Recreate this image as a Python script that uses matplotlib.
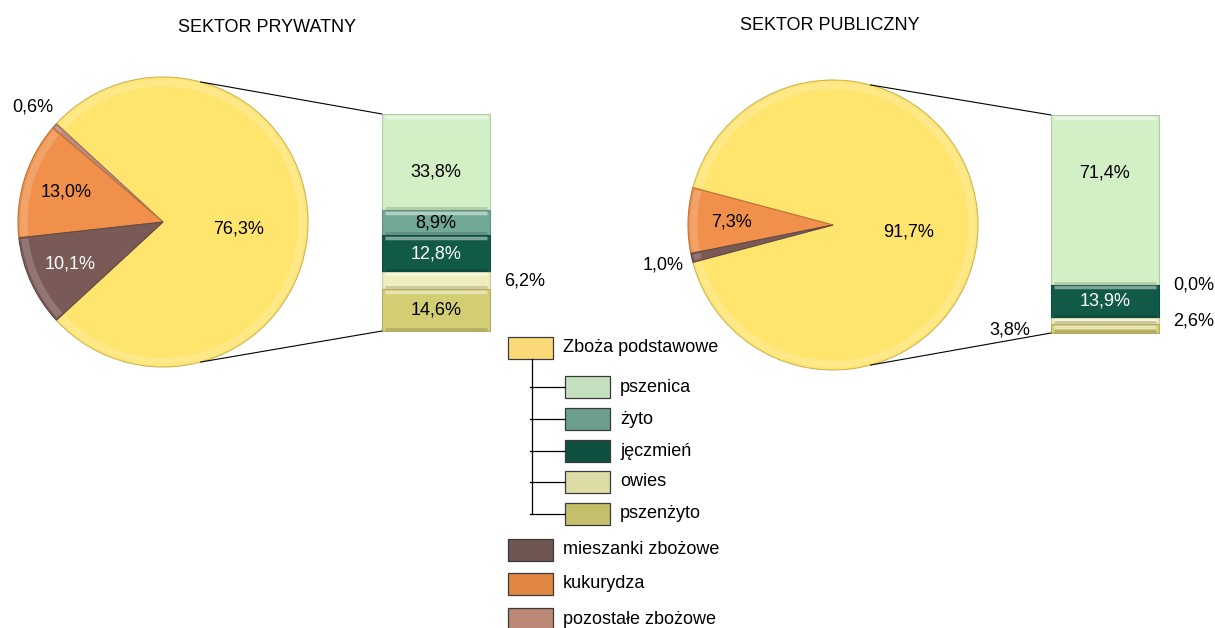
import numpy as np
import matplotlib
matplotlib.use("Agg")
import matplotlib.pyplot as plt
from matplotlib.colors import to_rgb
from matplotlib.patches import ConnectionPatch, Rectangle, Wedge

plt.rcParams["font.family"] = ["Liberation Sans", "DejaVu Sans"]
plt.rcParams["font.size"] = 13

# --- data -------------------------------------------------------------
titles = ["SEKTOR PRYWATNY", "SEKTOR PUBLICZNY"]

pie_labels = ["Zboża podstawowe", "pozostałe zbożowe", "kukurydza", "mieszanki zbożowe"]
private_pie = [76.3, 0.6, 13.0, 10.1]
public_pie = [91.7, 0.0, 7.3, 1.0]

bar_labels = ["pszenica", "żyto", "jęczmień", "owies", "pszenżyto"]
private_bar = [33.8, 8.9, 12.8, 6.2, 14.6]
public_bar = [71.4, 0.0, 13.9, 2.6, 3.8]

# --- style ------------------------------------------------------------
pie_colors = ["#FFE46E", "#C08A7A", "#F0904A", "#7A5A57"]
pie_text = ["black", "black", "black", "white"]
bar_colors = ["#D3EFC6", "#72A896", "#115A48", "#EFEDBC", "#D3CD74"]
bar_text = ["black", "black", "white", "black", "black"]

legend_pie_colors = ["#FAD978", "#BC8876", "#DF8742", "#6F5651"]
legend_bar_colors = ["#C5E0BF", "#6B9E8D", "#0E4F40", "#DEDCA6", "#C4BF6A"]

W, H = 1215, 628


def box(x0, y0, x1, y1):
    """pixel box (top-left origin) -> figure fraction rect"""
    return [x0 / W, 1 - y1 / H, (x1 - x0) / W, (y1 - y0) / H]


def shade(c, f):
    r, g, b = to_rgb(c)
    if f < 1:
        return (r * f, g * f, b * f)
    t = f - 1
    return (r + (1 - r) * t, g + (1 - g) * t, b + (1 - b) * t)


def pct(v):
    return f"{v:.1f}%".replace(".", ",")


fig = plt.figure(figsize=(W / 100, H / 100), dpi=100)

layouts = [
    dict(center=(163, 222), r=145, bar=(382, 114, 490, 331), title=(267, 27)),
    dict(center=(833, 225), r=145, bar=(1051, 115, 1159, 333), title=(830, 25)),
]

for pie_vals, bar_vals, lay, title in zip([private_pie, public_pie],
                                          [private_bar, public_bar], layouts, titles):
    cx, cy = lay["center"]
    r = lay["r"]
    ax_pie = fig.add_axes(box(cx - r, cy - r, cx + r, cy + r))

    keep = [i for i, v in enumerate(pie_vals) if v > 0]
    vals = [pie_vals[i] for i in keep]
    start = -pie_vals[0] / 100 * 180
    wedges, _ = ax_pie.pie(
        vals,
        colors=[pie_colors[i] for i in keep],
        startangle=start,
        counterclock=True,
        wedgeprops=dict(linewidth=0.8),
    )
    for w, i in zip(wedges, keep):
        w.set_edgecolor(shade(pie_colors[i], 0.8))
        # soft bevel: light rim inside each slice
        ax_pie.add_patch(Wedge((0, 0), 0.985, w.theta1 + 0.6, w.theta2 - 0.6,
                               width=0.05, facecolor=shade(pie_colors[i], 1.25),
                               edgecolor="none", alpha=0.7))
        mid = np.deg2rad((w.theta1 + w.theta2) / 2)
        v = pie_vals[i]
        if v < 2:
            d = 1.2
        elif i == 0:
            d = 0.52
        else:
            d = 0.7
        ax_pie.text(d * np.cos(mid), d * np.sin(mid) - (0.05 if i == 0 else 0),
                    pct(v), ha="center", va="center",
                    color=pie_text[i] if d < 1 else "black")
    ax_pie.set_xlim(-1, 1)
    ax_pie.set_ylim(-1, 1)
    ax_pie.set_aspect("equal")
    ax_pie.axis("off")

    # stacked bar of the basic cereals
    ax_bar = fig.add_axes(box(*lay["bar"]))
    total = sum(bar_vals)
    bar_px = lay["bar"][3] - lay["bar"][1]
    top = total
    n = len(bar_vals)
    for j, v in enumerate(bar_vals):
        bottom = top - v
        ax_bar.bar(0, v, bottom=bottom, width=1, color=bar_colors[j],
                   edgecolor=shade(bar_colors[j], 0.85), linewidth=0.8,
                   clip_on=False)
        seg_px = v / total * bar_px
        if seg_px > 4:
            ax_bar.plot([-0.47, 0.47], [top - 0.012 * total] * 2,
                        color=shade(bar_colors[j], 1.45), linewidth=2.5,
                        solid_capstyle="butt")
            ax_bar.plot([-0.47, 0.47], [bottom + 0.01 * total] * 2,
                        color=shade(bar_colors[j], 0.85), linewidth=2,
                        solid_capstyle="butt")
        mid = bottom + v / 2
        if j == 0 and seg_px > 60:
            ax_bar.annotate(pct(v), xy=(0, top), xytext=(0, -42),
                            textcoords="offset points", ha="center", va="center",
                            color=bar_text[j])
        elif seg_px >= 20:
            ax_bar.text(0, mid, pct(v), ha="center", va="center", color=bar_text[j])
        elif j == n - 1:
            ax_bar.annotate(pct(v), xy=(-0.5, mid), xytext=(-15, -1),
                            textcoords="offset points", ha="right", va="center")
        else:
            ax_bar.annotate(pct(v), xy=(0.5, mid), xytext=(10, 0),
                            textcoords="offset points", ha="left", va="center")
        top = bottom
    ax_bar.set_xlim(-0.5, 0.5)
    ax_bar.set_ylim(0, total)
    ax_bar.axis("off")

    # connector lines pie -> bar
    for ang, yb in [(75, total), (-75, 0)]:
        a = np.deg2rad(ang)
        con = ConnectionPatch(xyA=(np.cos(a), np.sin(a)), coordsA=ax_pie.transData,
                              xyB=(-0.5, yb), coordsB=ax_bar.transData,
                              color="black", linewidth=0.8)
        fig.add_artist(con)

    fig.text(lay["title"][0] / W, 1 - lay["title"][1] / H, title,
             ha="center", va="center")

# --- legend (tree) ----------------------------------------------------
ax_leg = fig.add_axes([0, 0, 1, 1])
ax_leg.set_xlim(0, W)
ax_leg.set_ylim(H, 0)
ax_leg.axis("off")


def legend_item(x, yc, color, text):
    ax_leg.add_patch(Rectangle((x, yc - 11), 45, 22, facecolor=color,
                               edgecolor="#3a3a3a", linewidth=0.9))
    ax_leg.text(x + 55, yc, text, ha="left", va="center")


legend_item(508, 348, legend_pie_colors[0], pie_labels[0])
sub_y = [387, 419, 451, 482, 514]
ax_leg.plot([532, 532], [359, sub_y[-1]], color="black", linewidth=0.9)
for yc, col, lab in zip(sub_y, legend_bar_colors, bar_labels):
    ax_leg.plot([530, 565], [yc, yc], color="black", linewidth=0.9)
    legend_item(565, yc, col, lab)

for yc, i in zip([550, 584, 619], [3, 2, 1]):
    legend_item(508, yc, legend_pie_colors[i], pie_labels[i])

fig.savefig("out.png", dpi=100)
